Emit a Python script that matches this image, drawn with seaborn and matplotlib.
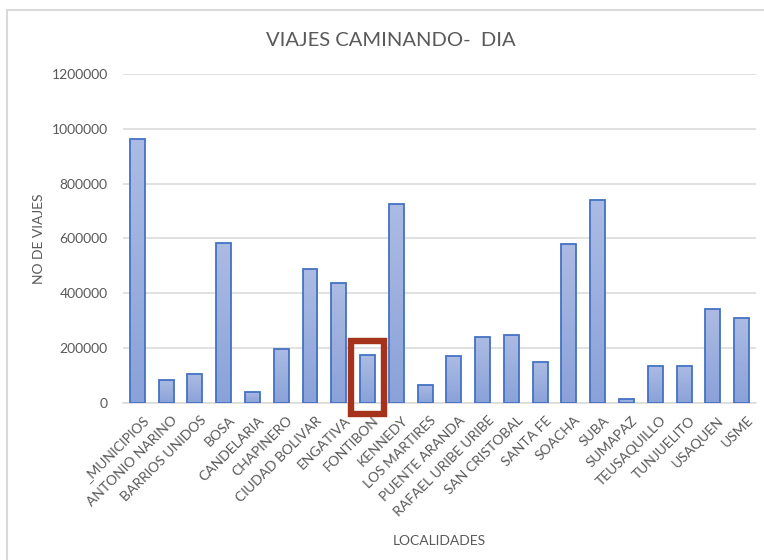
import matplotlib
matplotlib.use("Agg")
import matplotlib.pyplot as plt
import matplotlib.transforms as mtransforms
import numpy as np
import pandas as pd
import seaborn as sns
from matplotlib.patches import Rectangle

localidades = [
    "_MUNICIPIOS", "ANTONIO NARINO", "BARRIOS UNIDOS", "BOSA", "CANDELARIA",
    "CHAPINERO", "CIUDAD BOLIVAR", "ENGATIVA", "FONTIBON", "KENNEDY",
    "LOS MARTIRES", "PUENTE ARANDA", "RAFAEL URIBE URIBE", "SAN CRISTOBAL",
    "SANTA FE", "SOACHA", "SUBA", "SUMAPAZ", "TEUSAQUILLO", "TUNJUELITO",
    "USAQUEN", "USME",
]
viajes = [
    962000, 85000, 105000, 582000, 41000,
    197000, 488000, 437000, 175000, 726000,
    66000, 170000, 240000, 249000,
    148000, 580000, 742000, 15000, 136000, 136000,
    341000, 309000,
]
yticks = [0, 200000, 400000, 600000, 800000, 1000000, 1200000]
destacada = "FONTIBON"

TXT = "#595959"
GRID = "#d9d9d9"

sns.set_theme(style="white")
plt.rcParams["font.family"] = ["Lato", "DejaVu Sans"]

df = pd.DataFrame({"localidad": localidades, "viajes": viajes})

fig = plt.figure(figsize=(7.64, 5.60), dpi=100)
ax = fig.add_axes([0.161, 0.2804, 0.8285, 0.5875])

sns.barplot(data=df, x="localidad", y="viajes", order=localidades,
            width=0.52, color="#9db0de", edgecolor="#4472c4",
            linewidth=1.3, saturation=1, ax=ax, zorder=3)

# vertical gradient inside each bar (light at top, darker at bottom)
grad = np.linspace(0, 1, 256).reshape(-1, 1)
cmap = matplotlib.colors.LinearSegmentedColormap.from_list(
    "barfill", ["#8aa2d9", "#acbbe3"])
for p in ax.patches:
    x0, y0 = p.get_x(), p.get_y()
    w, h = p.get_width(), p.get_height()
    im = ax.imshow(grad, cmap=cmap, aspect="auto", origin="lower",
                   extent=[x0, x0 + w, y0, y0 + h], zorder=3.5)
    im.set_clip_path(p)
    p.set_facecolor("none")
    p.set_zorder(4)

ax.set_xlim(-0.5, len(localidades) - 0.5)
ax.set_ylim(0, 1200000)
ax.set_yticks(yticks)
ax.set_yticklabels([str(v) for v in yticks])
ax.yaxis.grid(True, color=GRID, linewidth=1.1, zorder=0)
ax.set_axisbelow(True)
for s in ["top", "right", "left"]:
    ax.spines[s].set_visible(False)
ax.spines["bottom"].set_color(GRID)
ax.spines["bottom"].set_linewidth(1.1)
ax.tick_params(axis="both", length=0, colors=TXT, labelsize=10)
ax.tick_params(axis="y", pad=11)
ax.tick_params(axis="x", pad=8)
shift = mtransforms.ScaledTranslation(5 / 100, 0, fig.dpi_scale_trans)
for lbl in ax.get_xticklabels():
    lbl.set_rotation(45)
    lbl.set_ha("right")
    lbl.set_rotation_mode("anchor")
    lbl.set_transform(lbl.get_transform() + shift)

ax.set_xlabel("LOCALIDADES", color=TXT, fontsize=10)
ax.set_ylabel("NO DE VIAJES", color=TXT, fontsize=10)
ax.xaxis.set_label_coords(0.5, -0.40)
ax.yaxis.set_label_coords(-0.124, 0.5)

fig.text(0.511, 0.927, "VIAJES CAMINANDO-  DIA", ha="center", va="center",
         color=TXT, fontsize=14.5)

# red box around the highlighted bar
bar = ax.patches[localidades.index(destacada)]
pad_x = 0.3
box = Rectangle((bar.get_x() - pad_x, -42000),
                bar.get_width() + 2 * pad_x, bar.get_height() + 93000,
                fill=False, edgecolor="#a5321b", linewidth=4.6,
                clip_on=False, zorder=6)
ax.add_patch(box)

# chart area border
fig.patches.append(Rectangle((7 / 764, -0.1), 1.2, 0.982 + 0.1,
                             transform=fig.transFigure, fill=False,
                             edgecolor=GRID, linewidth=1.5))

fig.savefig("out.png", dpi=100)
